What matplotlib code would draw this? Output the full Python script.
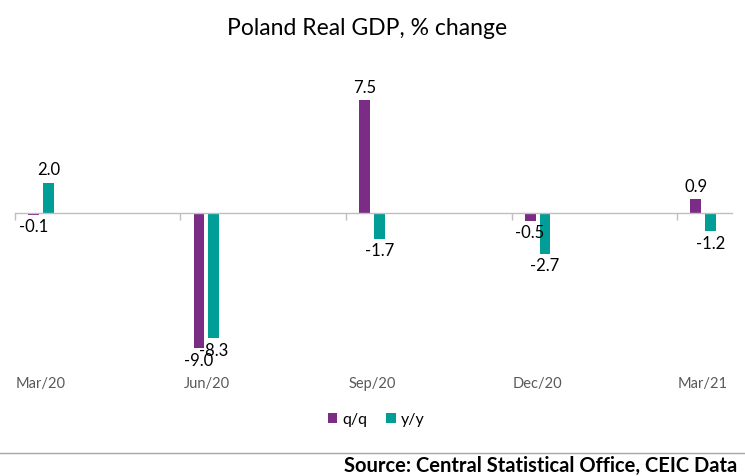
import numpy as np
import matplotlib.pyplot as plt

plt.rcParams['font.family'] = ['Lato', 'DejaVu Sans']

quarters = ['Mar/20', 'Jun/20', 'Sep/20', 'Dec/20', 'Mar/21']
qq = [-0.1, -9.0, 7.5, -0.5, 0.9]
yy = [2.0, -8.3, -1.7, -2.7, -1.2]

purple = '#7B2D86'
teal = '#009E96'

fig = plt.figure(figsize=(7.45, 4.76), dpi=100)
ax = fig.add_axes([0.020, 0.237, 0.9626, 0.631])

x = np.arange(len(quarters))
w = 0.066
off = 0.045
b1 = ax.bar(x - off, qq, w, color=purple, label='q/q')
b2 = ax.bar(x + off, yy, w, color=teal, label='y/y')

# data labels, outside end
for bars in (b1, b2):
    for r in bars:
        h = r.get_height()
        cx = r.get_x() + r.get_width() / 2.
        if h >= 0:
            ax.annotate("%.1f" % h, (cx, h), xytext=(0, 3.5), textcoords='offset points',
                        ha='center', va='bottom', fontsize=12, color='black')
        else:
            ax.annotate("%.1f" % h, (cx, h), xytext=(0, -3.5), textcoords='offset points',
                        ha='center', va='top', fontsize=12, color='black')

ax.set_xlim(-0.157, 4.175)
ax.set_ylim(-10, 10)
ax.set_yticks([])
for s in ['top', 'right', 'left']:
    ax.spines[s].set_visible(False)
ax.spines['bottom'].set_position(('data', 0))
ax.spines['bottom'].set_color('#BFBFBF')
ax.spines['bottom'].set_linewidth(1)
ax.set_xticks(x - 0.157)
ax.set_xticklabels([])
ax.tick_params(axis='x', length=5, color='#BFBFBF', width=1)

# category labels sit at the bottom of the plot area
for i, q in enumerate(quarters):
    ax.text(i, -0.07, q, transform=ax.get_xaxis_transform(), ha='center', va='center',
            fontsize=10.5, color='#595959')

fig.text(0.493, 0.94, 'Poland Real GDP, % change', ha='center', va='center', fontsize=16.5)

fig.legend(loc='center', bbox_to_anchor=(0.505, 0.118), ncol=2, frameon=False,
           fontsize=11.5, handlelength=0.6, handleheight=0.6, handletextpad=0.3,
           columnspacing=1.2)

fig.add_artist(plt.Line2D([0, 1], [0.048, 0.048], transform=fig.transFigure,
                          color='#A6A6A6', lw=1))
fig.text(0.99, 0.022, 'Source: Central Statistical Office, CEIC Data', ha='right',
         va='center', fontsize=14.5, fontweight='bold')

plt.savefig('out.png', dpi=100)
